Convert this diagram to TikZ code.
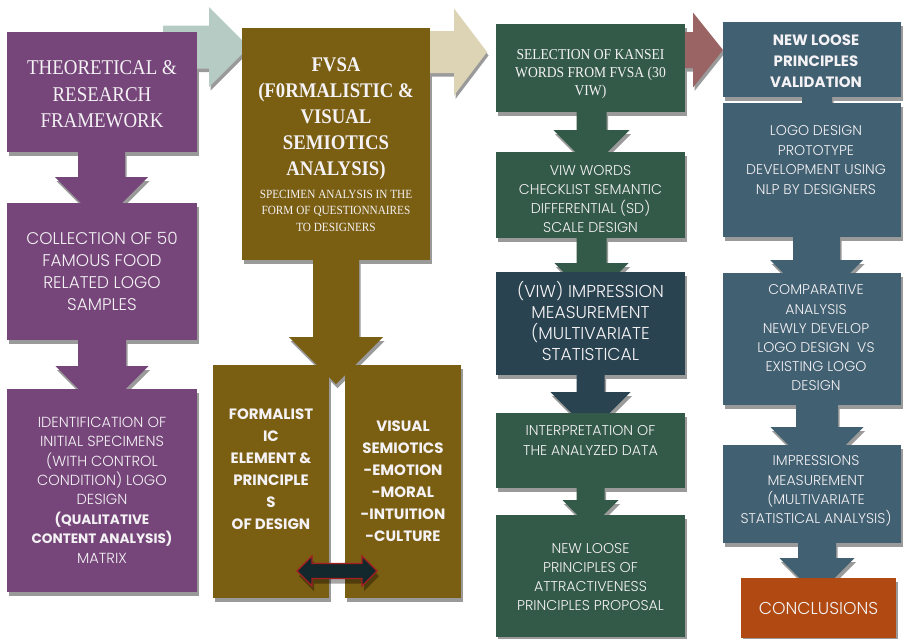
\documentclass[tikz,border=0pt]{standalone}
\usepackage{fontspec}
\newfontfamily\gothic{Poppins Light}[BoldFont={Poppins Bold}]
\newfontfamily\cambria{Liberation Serif}[FakeStretch=0.9]
\usetikzlibrary{calc}
\pgfdeclarelayer{bg}
\pgfdeclarelayer{shadows}
\pgfdeclarelayer{arrows}
\pgfsetlayers{bg,shadows,arrows,main}

\definecolor{colPurple}{HTML}{76467A}
\definecolor{colOlive}{HTML}{7A5E12}
\definecolor{colGreen}{HTML}{335A48}
\definecolor{colSlate}{HTML}{2A4350}
\definecolor{colBlue}{HTML}{416072}
\definecolor{colRust}{HTML}{B04A12}
\definecolor{colMint}{HTML}{B6CBC3}
\definecolor{colSand}{HTML}{DDD4B5}
\definecolor{colRose}{HTML}{9B6464}
\definecolor{colInk}{HTML}{12282C}
\definecolor{colEdge}{HTML}{A51E22}
\definecolor{shadowc}{HTML}{9A9A9A}
\definecolor{textc}{HTML}{F4F2F4}

\tikzset{
  box/.style={rectangle, inner sep=0pt, outer sep=0pt, draw=none},
  txt/.style={align=center, text=textc, inner sep=0pt},
  dblshadow/.style={fill=black, opacity=0.35},
  dblbody/.style={fill=colInk, draw=colEdge, line width=1.2pt},
}

% vertical block arrow: from, to, x offset, stem half width, head half width,
% head top above to.north, colour
\newcommand\vblock[7]{%
  \begin{pgfonlayer}{arrows}
  \foreach \ox/\oy/\col in {1.5/4/shadowc,0/0/#7}{%
    \fill[\col] let \p1=(#1.south), \p2=(#2.north) in
      ({\x1+(#3)-(#4)+\ox}, {\y1-\oy}) --
      ({\x1+(#3)-(#4)+\ox}, {\y2+(#6)-\oy}) --
      ({\x1+(#3)-(#5)+\ox}, {\y2+(#6)-\oy}) --
      ({\x1+(#3)+\ox}, {\y2+(#6)-(#5)-\oy}) --
      ({\x1+(#3)+(#5)+\ox}, {\y2+(#6)-\oy}) --
      ({\x1+(#3)+(#4)+\ox}, {\y2+(#6)-\oy}) --
      ({\x1+(#3)+(#4)+\ox}, {\y1-\oy}) -- cycle;
  }%
  \end{pgfonlayer}}

% horizontal block arrow: from, to, stem start (from.east), head base (to.west),
% tip (to.west), axis below from.north, stem half, head half, colour
\newcommand\hblock[9]{%
  \begin{pgfonlayer}{arrows}
  \foreach \ox/\oy/\col in {1.5/3.5/shadowc,0/0/#9}{%
    \fill[\col] let \p1=(#1.north east), \p2=(#2.west) in
      ({\x1+(#3)+\ox}, {\y1-(#6)+(#7)-\oy}) --
      ({\x2+(#4)+\ox}, {\y1-(#6)+(#7)-\oy}) --
      ({\x2+(#4)+\ox}, {\y1-(#6)+(#8)-\oy}) --
      ({\x2+(#5)+\ox}, {\y1-(#6)-\oy}) --
      ({\x2+(#4)+\ox}, {\y1-(#6)-(#8)-\oy}) --
      ({\x2+(#4)+\ox}, {\y1-(#6)-(#7)-\oy}) --
      ({\x1+(#3)+\ox}, {\y1-(#6)-(#7)-\oy}) -- cycle;
  }%
  \end{pgfonlayer}}

\begin{document}
\begin{tikzpicture}[x=1pt,y=-1pt]
\useasboundingbox (0,0) rectangle (903,638);
\begin{pgfonlayer}{bg}
  \fill[white] (0,0) rectangle (903,638);
\end{pgfonlayer}

% ---- column 1 ----
\node[box, fill=colPurple, minimum width=190, minimum height=120] (A) at (102,92) {};
\node[box, fill=colPurple, minimum width=190, minimum height=137] (B) at (102,271.5) {};
\node[box, fill=colPurple, minimum width=190, minimum height=203] (C) at (102,490.5) {};
% ---- column 2 ----
\node[box, fill=colOlive, minimum width=188, minimum height=232] (D) at (336,144) {};
\node[box, fill=colOlive, minimum width=116, minimum height=233] (E) at (271,481.5) {};
\node[box, fill=colOlive, minimum width=116, minimum height=233] (F) at (403,481.5) {};
% ---- column 3 ----
\node[box, fill=colGreen, minimum width=189, minimum height=88] (G) at (590.5,68) {};
\node[box, fill=colGreen, minimum width=189, minimum height=86] (H) at (590.5,195) {};
\node[box, fill=colSlate, minimum width=189, minimum height=103] (I) at (590.5,323.5) {};
\node[box, fill=colGreen, minimum width=189, minimum height=75] (J) at (590.5,450.5) {};
\node[box, fill=colGreen, minimum width=189, minimum height=122] (K) at (590.5,576) {};
% ---- column 4 ----
\node[box, fill=colBlue, minimum width=178, minimum height=75] (L) at (812,59.5) {};
\node[box, fill=colBlue, minimum width=178, minimum height=134] (M) at (812,170) {};
\node[box, fill=colBlue, minimum width=178, minimum height=132] (N) at (812,339) {};
\node[box, fill=colBlue, minimum width=178, minimum height=98] (O) at (812,494) {};
\node[box, fill=colRust, minimum width=155, minimum height=60] (P) at (818.5,608) {};

% drop shadows of the boxes
\begin{pgfonlayer}{shadows}
\foreach \n in {A,B,C,D,E,F,G,H,I,J,K,L,M,N,O,P}
  \fill[shadowc] ([xshift=2pt,yshift=-4pt]\n.north west) rectangle ([xshift=2pt,yshift=-4pt]\n.south east);
\end{pgfonlayer}

% ---- block arrows ----
\hblock{A}{D}{-34}{-33}{7}{15}{21.5}{40}{colMint}
\hblock{D}{G}{-30}{-42}{-9}{24}{21}{43.5}{colSand}
\hblock{G}{L}{-25}{-30}{0}{26}{18}{37.5}{colRose}

\vblock{A}{B}{-0.5}{23.5}{46.5}{26}{colPurple}
\vblock{B}{C}{0}{24}{46.5}{23}{colPurple}
\vblock{D}{E}{0}{23}{47}{28}{colOlive}
\vblock{G}{H}{1}{15}{38}{22}{colGreen}
\vblock{H}{I}{1}{15}{37}{9}{colGreen}
\vblock{I}{J}{0}{14}{40}{21}{colSlate}
\vblock{J}{K}{0}{14}{28}{15}{colGreen}
\vblock{L}{M}{5}{15}{20}{0}{colBlue}
\vblock{M}{N}{4.5}{23.5}{46.5}{13}{colBlue}
\vblock{N}{O}{5}{21}{46.5}{18}{colBlue}
\vblock{O}{P}{5}{19}{37.5}{20}{colBlue}

% double-headed arrow linking the two analysis boxes
\foreach \ox/\oy/\st in {2/5/dblshadow,0/0/dblbody}{
  \path[\st] let \p1=(E.south east), \p2=(F.south west) in
    ({\x1-32+\ox}, {\y1+27-\oy}) --
    ({\x1-17+\ox}, {\y1+42-\oy}) --
    ({\x1-17+\ox}, {\y1+34.5-\oy}) --
    ({\x2+17+\ox}, {\y1+34.5-\oy}) --
    ({\x2+17+\ox}, {\y1+42-\oy}) --
    ({\x2+32+\ox}, {\y1+27-\oy}) --
    ({\x2+17+\ox}, {\y1+12-\oy}) --
    ({\x2+17+\ox}, {\y1+19.5-\oy}) --
    ({\x1-17+\ox}, {\y1+19.5-\oy}) --
    ({\x1-17+\ox}, {\y1+12-\oy}) -- cycle;
}

% ---- texts ----
\node[txt, font=\cambria\fontsize{21}{26.5}\selectfont] (tA) at (102,94.5)
  {THEORETICAL \&\\RESEARCH\\FRAMEWORK};
\node[txt, font=\gothic\fontsize{16.9}{22}\selectfont] (tB) at (102,271)
  {COLLECTION OF 50\\FAMOUS FOOD\\RELATED LOGO\\SAMPLES};
\node[txt, font=\gothic\fontsize{14.6}{19.4}\selectfont] (tC) at (102,490)
  {IDENTIFICATION OF\\INITIAL SPECIMENS\\(WITH CONTROL\\CONDITION) LOGO\\DESIGN\\
   {\bfseries\fontsize{13.6}{19.4}\selectfont (QUALITATIVE}\\
   {\bfseries\fontsize{13.6}{19.4}\selectfont CONTENT ANALYSIS)}\\MATRIX};
\node[txt, font=\cambria\bfseries\fontsize{20.8}{26}\selectfont] (tD) at (336,119)
  {FVSA\\(F0RMALISTIC \&\\VISUAL\\SEMIOTICS\\ANALYSIS)};
\node[txt, font=\cambria\fontsize{12.5}{16.5}\selectfont] (tDs) at (336,210.5)
  {SPECIMEN ANALYSIS IN THE\\FORM OF QUESTIONNAIRES\\TO DESIGNERS};
\node[txt, font=\gothic\bfseries\fontsize{15}{22}\selectfont] (tE) at (271,469)
  {FORMALIST\\IC\\ELEMENT \&\\PRINCIPLE\\S\\OF DESIGN};
\node[txt, font=\gothic\bfseries\fontsize{15}{22}\selectfont] (tF) at (403,481)
  {VISUAL\\SEMIOTICS\\-EMOTION\\-MORAL\\-INTUITION\\-CULTURE};
\node[txt, font=\cambria\fontsize{15.1}{18}\selectfont] (tG) at (590.5,74)
  {SELECTION OF KANSEI\\WORDS FROM FVSA (30\\VIW)};
\node[txt, font=\gothic\fontsize{14.2}{19.3}\selectfont] (tH) at (590.5,199)
  {VIW WORDS\\CHECKLIST SEMANTIC\\DIFFERENTIAL (SD)\\SCALE DESIGN};
\node[txt, font=\gothic\fontsize{17.2}{20.7}\selectfont] (tI) at (590.5,321)
  {(VIW) IMPRESSION\\MEASUREMENT\\(MULTIVARIATE\\STATISTICAL};
\node[txt, font=\gothic\fontsize{14.2}{19.5}\selectfont] (tJ) at (590.5,440.5)
  {INTERPRETATION OF\\THE ANALYZED DATA};
\node[txt, font=\gothic\fontsize{14.2}{19}\selectfont] (tK) at (590.5,577)
  {NEW LOOSE\\PRINCIPLES OF\\ATTRACTIVENESS\\PRINCIPLES PROPOSAL};
\node[txt, font=\gothic\bfseries\fontsize{15}{21}\selectfont] (tL) at (816,61)
  {NEW LOOSE\\PRINCIPLES\\VALIDATION};
\node[txt, font=\gothic\fontsize{14.1}{19.7}\selectfont] (tM) at (816,160)
  {LOGO DESIGN\\PROTOTYPE\\DEVELOPMENT USING\\NLP BY DESIGNERS};
\node[txt, font=\gothic\fontsize{14.1}{19.2}\selectfont] (tN) at (816,338)
  {COMPARATIVE\\ANALYSIS\\NEWLY DEVELOP\\LOGO DESIGN~ VS\\EXISTING LOGO\\DESIGN};
\node[txt, font=\gothic\fontsize{14.1}{19.3}\selectfont] (tO) at (816,491)
  {IMPRESSIONS\\MEASUREMENT\\(MULTIVARIATE\\STATISTICAL ANALYSIS)};
\node[txt, font=\gothic\fontsize{17.2}{20}\selectfont] (tP) at (818.5,608)
  {CONCLUSIONS};
\end{tikzpicture}
\end{document}
